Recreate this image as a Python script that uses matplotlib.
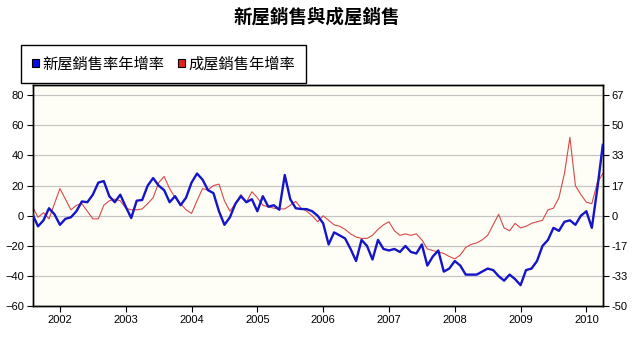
import numpy as np
import matplotlib
matplotlib.use("Agg")
import matplotlib.pyplot as plt
from matplotlib.patches import Patch
from matplotlib.ticker import FuncFormatter

plt.rcParams['font.family'] = ['Liberation Sans', 'Noto Sans CJK TC', 'DejaVu Sans']

# monthly, Aug 2001 .. Apr 2010
start_year = 2001
start_month = 8
year_ticks = [2002, 2003, 2004, 2005, 2006, 2007, 2008, 2009, 2010]

# new home sales, yoy % (left axis)
new_home = [1, -7, -3, 5, 1, -6, -2, -1, 3, 9.5,
            9, 14, 22, 23, 13, 9, 14, 6, -1.5, 10,
            10.5, 20, 25, 20, 17, 9, 13, 7, 12, 22,
            28, 24, 17, 15, 3, -6, -1, 8, 13, 9,
            11, 3, 13, 6, 7, 4, 27, 11, 5, 4.5,
            4.4, 3, 0, -5, -19, -11, -13, -15, -22, -30,
            -16, -20, -29, -16, -22, -23, -22, -24, -20, -24,
            -25, -19, -33, -27, -23, -37, -35, -30, -33, -39,
            -39, -39, -37, -35, -36, -40, -43, -39, -42, -46,
            -36, -35, -30, -20, -16, -8, -10, -4, -3, -6,
            0, 3, -8, 18, 47]

# existing home sales, yoy % (right axis)
existing_home = [5, -0.8, 1.7, -1.7, 6.7, 15, 9.2, 3.3, 5.8, 6.7,
                 2.5, -1.7, -1.7, 5.8, 8.3, 9.2, 8.3, 4.2, 3.3, 3.3,
                 3.8, 6.7, 10, 18.3, 21.7, 15, 10, 6.7, 3.3, 1.3,
                 8.3, 15, 14.2, 16.7, 17.5, 8.3, 2.5, 6.7, 11.7, 7.5,
                 13.3, 10, 5.8, 5, 4.2, 3.8, 3.8, 5.8, 7.9, 4.2,
                 2.5, 0, -3.3, 0, -2.5, -5, -5.8, -7.5, -10, -11.7,
                 -12.5, -12.5, -10.8, -7.5, -5, -3.3, -8.3, -10.8, -10, -10.8,
                 -10, -13.3, -18.3, -19.2, -20, -20.8, -22.5, -23.8, -21.7, -17.5,
                 -15.8, -15, -13.3, -10.8, -5, 0.8, -6.7, -8.3, -4.2, -6.7,
                 -5.8, -4.2, -3.3, -2.5, 3.3, 4.2, 10, 23.3, 43.3, 16.7,
                 11.7, 7.5, 6.7, 18.3, 23.3]

n = len(new_home)
x = start_year + (start_month - 1) / 12 + np.arange(n) / 12

fig = plt.figure(figsize=(6.34, 3.41), dpi=100)
ax = fig.add_axes([0.0513, 0.1018, 0.8995, 0.6489])
ax2 = ax.twinx()

ax.plot(x, new_home, color='#1414C8', lw=1.7, zorder=3)
ax2.plot(x, existing_home, color='#D84848', lw=0.8, zorder=2)
ax.set_zorder(ax2.get_zorder() + 1)
ax.patch.set_visible(False)
ax2.patch.set_visible(True)
ax2.set_facecolor('#FFFEF6')

left_ticks = np.arange(-60, 81, 20)
ax.set_ylim(-60, 86.7)
ax.set_yticks(left_ticks)
ax2.set_ylim(-50, 86.7 * 5 / 6)
ax2.set_yticks(left_ticks * 5 / 6)
ax2.yaxis.set_major_formatter(FuncFormatter(lambda v, _: f"{v:.0f}"))
for t in left_ticks:
    ax2.axhline(t * 5 / 6, color='#C4C4C4', lw=0.9, zorder=0)

ax.set_xlim(x[0], x[-1])
ax.set_xticks(year_ticks)
ax.set_xticklabels([str(y) for y in year_ticks])

for a in (ax, ax2):
    a.tick_params(labelsize=8, length=4, width=0.8, color='black', pad=2)
    for s in a.spines.values():
        s.set_linewidth(1)
        s.set_color('black')

fig.text(0.5, 1 - 17 / 341, '新屋銷售與成屋銷售', ha='center', va='center',
         fontsize=13.3, fontweight='bold', family=['Noto Sans CJK TC', 'DejaVu Sans'])

handles = [Patch(facecolor='#0A0AE6', edgecolor='black', lw=0.8),
           Patch(facecolor='#E61E1E', edgecolor='black', lw=0.8)]
leg = fig.legend(handles, ['新屋銷售率年增率', '成屋銷售年增率'],
                 loc='upper left', bbox_to_anchor=(21 / 634, 1 - 45 / 341),
                 ncol=2, fancybox=False, framealpha=1, edgecolor='black',
                 handlelength=0.45, handleheight=0.45, handletextpad=0.25,
                 columnspacing=0.9, borderpad=0.7, borderaxespad=0,
                 prop={'family': ['Noto Sans CJK TC', 'DejaVu Sans'], 'size': 11})
leg.get_frame().set_linewidth(1)

fig.savefig('out.png', dpi=100)
